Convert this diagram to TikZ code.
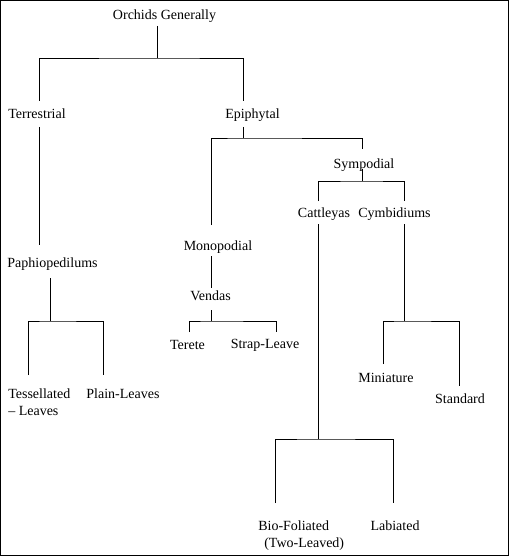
\documentclass[tikz,border=0pt]{standalone}
\usepackage{fontspec}
\setmainfont{Liberation Serif}

\begin{document}
\begin{tikzpicture}[
  x=0.75pt, y=-0.75pt,
  font=\fontsize{10.5pt}{12.75pt}\selectfont,
  lbl/.style={anchor=base, inner sep=0pt},
  ln/.style={line width=0.7pt, black}
]
\useasboundingbox (0,0) rectangle (509,556);
\draw[line width=0.8pt] (0.5,0.5) rectangle (508.5,555.5);

% names
\node[lbl] (og) at (164.5,20) {Orchids Generally};
\node[lbl] (terr) at (37,118) {Terrestrial};
\node[lbl] (epi) at (252.5,118) {Epiphytal};
\node[lbl] (sym) at (364,168) {Sympodial};
\node[lbl] (cat) at (324,217) {Cattleyas};
\node[lbl] (cym) at (394.5,217) {Cymbidiums};
\node[lbl] (mono) at (218,250) {Monopodial};
\node[lbl] (paph) at (52.5,267) {Paphiopedilums};
\node[lbl] (ven) at (210.5,300) {Vendas};
\node[lbl] (ter) at (187.5,349) {Terete};
\node[lbl] (str) at (265,348) {Strap-Leave};
\node[lbl, anchor=base west, align=left] (tes) at (8,415) {Tessellated\\– Leaves};
\node[lbl] (pla) at (123,398) {Plain-Leaves};
\node[lbl] (mini) at (386,382) {Miniature};
\node[lbl] (stan) at (460,403) {Standard};
\node[lbl, anchor=base west, align=left] (bio) at (258,547) {Bio-Foliated\\\hspace{4.5pt}(Two-Leaved)};
\node[lbl] (lab) at (395,530) {Labiated};

% line ends next to the names, and the bars
\coordinate (og-s) at (157,26);   \coordinate (j-og) at (157,58);
\coordinate (terr-n) at (39,101); \coordinate (terr-s) at (39,127);
\coordinate (epi-n) at (243,101); \coordinate (epi-s) at (243,127);
\coordinate (j-epi) at (243,138);
\coordinate (mono-n) at (211,225); \coordinate (mono-s) at (211,256);
\coordinate (sym-n) at (362,149); \coordinate (sym-s) at (362,169);
\coordinate (j-sym) at (362,181);
\coordinate (cat-n) at (318,201); \coordinate (cat-s) at (318,224);
\coordinate (cym-n) at (404,201); \coordinate (cym-s) at (404,224);
\coordinate (paph-n) at (39,245); \coordinate (paph-s) at (50,278);
\coordinate (j-paph) at (50,321);
\coordinate (ven-n) at (211,288); \coordinate (ven-s) at (211,310);
\coordinate (j-ven) at (211,321);
\coordinate (ter-n) at (189,332); \coordinate (str-n) at (276,332);
\coordinate (tes-n) at (28,375);  \coordinate (pla-n) at (103,375);
\coordinate (j-cym) at (404,321);
\coordinate (mini-n) at (383,364); \coordinate (stan-n) at (459,386);
\coordinate (j-cat) at (318,439);
\coordinate (bio-n) at (275,503); \coordinate (lab-n) at (393,503);

% connectors
\draw[ln] (og-s) -- (j-og) (terr-n) |- (j-og) -| (epi-n);
\draw[ln] (terr-s) -- (paph-n);
\draw[ln] (epi-s) -- (j-epi) (mono-n) |- (j-epi) -| (sym-n);
\draw[ln] (sym-s) -- (j-sym) (cat-n) |- (j-sym) -| (cym-n);
\draw[ln] (mono-s) -- (ven-n);
\draw[ln] (ven-s) -- (j-ven) (ter-n) |- (j-ven) -| (str-n);
\draw[ln] (paph-s) -- (j-paph) (tes-n) |- (j-paph) -| (pla-n);
\draw[ln] (cym-s) -- (j-cym) (mini-n) |- (j-cym) -| (stan-n);
\draw[ln] (cat-s) -- (j-cat) (bio-n) |- (j-cat) -| (lab-n);
\end{tikzpicture}
\end{document}
